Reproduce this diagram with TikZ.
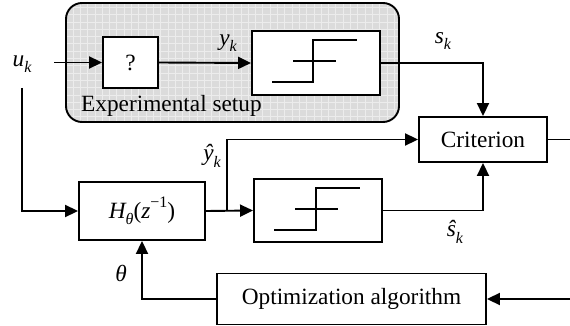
\documentclass[tikz,border=0pt]{standalone}
\usepackage{fontspec}
\setmainfont{Liberation Serif}
\usetikzlibrary{arrows.meta}
\newcommand\sbk[1]{\raisebox{-0.28em}{\fontsize{16}{16}\selectfont\itshape #1}}
\newcommand\spk[1]{\raisebox{0.45em}{\fontsize{16}{16}\selectfont #1}}
\tikzset{
  blk/.style={draw, line width=1.9pt, fill=white, inner sep=0pt},
  conn/.style={line width=1.9pt},
  arr/.style={conn, -{Triangle[length=13pt,width=12pt]}},
  lbl/.style={inner sep=0pt},
  stepsym/.style={line width=1.6pt}
}
\begin{document}
\begin{tikzpicture}[x=1pt,y=-1pt,font=\fontsize{23.3}{26}\selectfont]
\useasboundingbox (0,0) rectangle (570,326);
% experimental setup background
\begin{scope}
  \clip[rounded corners=16pt] (66,3) rectangle (399,122);
  \fill[gray!28] (66,3) rectangle (399,122);
  \draw[white!85!gray, line width=0.7pt, step=7.3pt] (66,3) grid (399,122);
\end{scope}
\draw[line width=1.9pt, rounded corners=16pt] (66,3) rectangle (399,122);
\node[lbl, anchor=west] (setup) at (81,106) {Experimental setup};
% blocks
\node[blk, minimum width=55pt, minimum height=51pt] (q) at (130.5,62.5) {?};
\node[blk, minimum width=128pt, minimum height=64pt] (st1) at (316,63) {};
\node[blk, minimum width=128pt, minimum height=45pt] (crit) at (483,139.5) {Criterion};
\node[blk, minimum width=126pt, minimum height=58pt] (H) at (142,211) {\itshape H\sbk{θ}\upshape(\textit{z}\spk{−1})};
\node[blk, minimum width=128pt, minimum height=63pt] (st2) at (318,210.5) {};
\node[blk, minimum width=269pt, minimum height=51pt] (opt) at (351.5,299) {Optimization algorithm};
% step symbols
\draw[stepsym] (293,61) -- (336,61);
\draw[stepsym] (272,82) -- (313,82) -- (313,40) -- (357,40);
\draw[stepsym] (295,209) -- (338,209);
\draw[stepsym] (274,230) -- (316,230) -- (316,188) -- (360,188);
% labels
\node[lbl] (uk) at (22,64) {\itshape u\sbk{k}};
\node[lbl] (yk) at (228,43) {\itshape y\sbk{k}};
\node[lbl] (sk) at (443,41) {\itshape s\sbk{k}};
\node[lbl] (yhk) at (212,156) {\itshape \^{y}\sbk{k}};
\node[lbl] (shk) at (455,232) {\itshape \^{s}\sbk{k}};
\node[lbl] (th) at (121,273) {\itshape θ};
% coordinates
\coordinate (uin) at (54,62.5);
\coordinate (udn) at (22,88);
\coordinate (j) at (227,211);
\coordinate (cout) at (570,139.5);
\coordinate (oin) at (570,299);
% connectors
\draw[arr] (uin) -- (q.west);
\draw[arr] (q.east) -- (st1.west);
\draw[arr] (st1.east) -| (crit.north);
\draw[arr] (udn) |- (H.west);
\draw[arr] (H.east) -- (st2.west);
\draw[arr] (j) |- (crit.west);
\draw[arr] (st2.east) -| (crit.south);
\draw[conn] (crit.east) -- (cout);
\draw[arr] (oin) -- (opt.east);
\draw[arr] (opt.west) -| (H.south);
\end{tikzpicture}
\end{document}
